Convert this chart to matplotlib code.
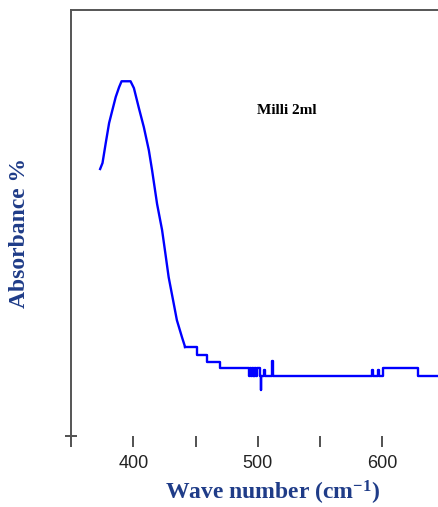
import matplotlib.pyplot as plt
import numpy as np

plt.rcParams['mathtext.fontset'] = 'custom'
plt.rcParams['mathtext.bf'] = 'Liberation Serif:bold'
plt.rcParams['mathtext.rm'] = 'Liberation Serif:bold'

# Digitised spectrum (wave number, absorbance in arbitrary units)
# band region: drawn as a plain line
wave_band = [373.4, 375.3, 377.9, 380.6, 383.2, 385.9, 388.6, 390.6, 397.8, 400.5,
             404.5, 408.5, 412.5, 415.1, 419.1, 423.1, 425.7, 428.4, 432.4, 435.0,
             439.1, 441.6]
abs_band = [0.627, 0.641, 0.688, 0.735, 0.765, 0.796, 0.819, 0.833, 0.833, 0.817,
            0.770, 0.725, 0.671, 0.624, 0.545, 0.484, 0.430, 0.373, 0.312, 0.272,
            0.232, 0.209]
# flat tail: recorded in steps
wave_tail = [441.6, 451.0, 459.0, 469.3,
             493.2, 494.0, 494.6, 495.3, 496.0, 496.6, 497.3, 498.0, 498.8, 499.6,
             501.5, 502.2, 502.9, 505.0, 505.6, 511.6, 512.3, 512.9,
             591.8, 592.5, 593.2, 596.6, 597.3, 598.0, 600.7, 628.6, 645.4]
abs_tail = [0.209, 0.190, 0.174, 0.160,
            0.141, 0.160, 0.141, 0.160, 0.141, 0.160, 0.141, 0.160, 0.141, 0.160,
            0.141, 0.108, 0.141, 0.156, 0.141, 0.176, 0.141, 0.141,
            0.156, 0.141, 0.141, 0.156, 0.141, 0.141, 0.160, 0.141, 0.141]

xticks = [350, 400, 450, 500, 550, 600]
xticklabels = ['', '400', '', '500', '', '600']

fig = plt.figure(figsize=(4.39, 5.07), dpi=100)
ax = fig.add_axes([0.1617, 0.140, 0.8383, 0.840])

ax.plot(wave_band, abs_band, color='#0000FF', lw=1.7)
ax.plot(wave_tail, abs_tail, color='#0000FF', lw=1.7, drawstyle='steps-post')

ax.set_xlim(352.2, 645.4)
ax.set_ylim(0, 1.0)
ax.set_xticks(xticks)
ax.set_xticklabels(xticklabels, fontsize=13, color='#222222',
                   family='Liberation Sans')
ax.set_yticks([0])
ax.set_yticklabels([''])
ax.tick_params(axis='x', direction='out', length=8, width=1.2, color='#333333', pad=6)
ax.tick_params(axis='y', direction='inout', length=9, width=1.2, color='#333333')

ax.spines['right'].set_visible(False)
ax.spines['bottom'].set_visible(False)
for s in ['left', 'top']:
    ax.spines[s].set_color('#555555')
    ax.spines[s].set_linewidth(1.4)

fig.text(287 / 439, 1 - 110 / 507, 'Milli 2ml',
         family='Liberation Serif', fontweight='bold', fontsize=11,
         ha='center', va='center', color='black')

fig.text(20 / 439, 1 - 233 / 507, 'Absorbance %', rotation=90,
         family='Liberation Serif', fontweight='bold', fontsize=17,
         color='#1F3C88', ha='center', va='center')
fig.text(272 / 439, 1 - 493 / 507, r'Wave number (cm$\mathbf{^{-1}}$)',
         family='Liberation Serif', fontweight='bold', fontsize=17,
         color='#1F3C88', ha='center', va='center')

fig.savefig('out.png', dpi=100)
